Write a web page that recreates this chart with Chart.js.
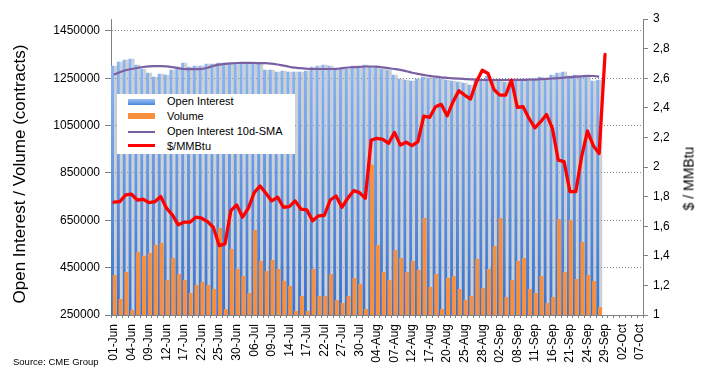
<!DOCTYPE html>
<html><head><meta charset="utf-8">
<script src="https://cdn.jsdelivr.net/npm/chart.js@4.4.1/dist/chart.umd.min.js"></script>
<style>
html,body{margin:0;padding:0;background:#fff;}
#wrap{position:relative;width:709px;height:377px;overflow:hidden;font-family:'Liberation Sans',Arial,sans-serif;color:#000;}
#c{position:absolute;left:0;top:0;}
#legend{position:absolute;left:117px;top:94px;width:178px;height:60px;background:#fff;}
.sw{position:absolute;left:11px;width:27px;}
.lt{position:absolute;left:50px;font-size:11px;line-height:14px;white-space:nowrap;}
#ltitle{position:absolute;left:-130px;top:164px;width:300px;height:20px;line-height:20px;text-align:center;font-size:17px;transform:rotate(-90deg);transform-origin:50% 50%;white-space:nowrap;}
#rtitle{position:absolute;left:639px;top:170px;width:100px;height:17px;line-height:17px;text-align:center;font-size:14px;transform:rotate(-90deg);transform-origin:50% 50%;white-space:nowrap;}
#source{position:absolute;left:13px;top:356px;font-size:9.5px;line-height:12px;white-space:nowrap;}
</style>
</head><body>
<div id="wrap">
<canvas id="c" width="709" height="377"></canvas>
<div id="legend">
  <div class="sw" style="top:5px;height:5.5px;background:linear-gradient(to bottom,#9cc2f6,#4a86d8);"></div>
  <div class="lt" style="top:0px;">Open Interest</div>
  <div class="sw" style="top:19.3px;height:5.7px;background:#f78f3e;"></div>
  <div class="lt" style="top:15px;">Volume</div>
  <div class="sw" style="top:36.7px;height:2px;background:#7a60a3;"></div>
  <div class="lt" style="top:30px;">Open Interest 10d-SMA</div>
  <div class="sw" style="top:50.2px;height:3px;background:#ff0000;"></div>
  <div class="lt" style="top:44.7px;">$/MMBtu</div>
</div>
<div id="ltitle">Open Interest / Volume (contracts)</div>
<div id="rtitle">$ / MMBtu</div>
<div id="source">Source: CME Group</div>
</div>
<script>
const categories = [
 '01-Jun','02-Jun','03-Jun','04-Jun','05-Jun','08-Jun','09-Jun','10-Jun','11-Jun','12-Jun',
 '15-Jun','16-Jun','17-Jun','18-Jun','19-Jun','22-Jun','23-Jun','24-Jun','25-Jun','26-Jun',
 '29-Jun','30-Jun','01-Jul','02-Jul','06-Jul','07-Jul','08-Jul','09-Jul','10-Jul','13-Jul',
 '14-Jul','15-Jul','16-Jul','17-Jul','20-Jul','21-Jul','22-Jul','23-Jul','24-Jul','27-Jul',
 '28-Jul','29-Jul','30-Jul','31-Jul','03-Aug','04-Aug','05-Aug','06-Aug','07-Aug','10-Aug',
 '11-Aug','12-Aug','13-Aug','14-Aug','17-Aug','18-Aug','19-Aug','20-Aug','21-Aug','24-Aug',
 '25-Aug','26-Aug','27-Aug','28-Aug','31-Aug','01-Sep','02-Sep','03-Sep','04-Sep','08-Sep',
 '09-Sep','10-Sep','11-Sep','14-Sep','15-Sep','16-Sep','17-Sep','18-Sep','21-Sep','22-Sep',
 '23-Sep','24-Sep','25-Sep','28-Sep','29-Sep','30-Sep','01-Oct','02-Oct','05-Oct','06-Oct',
 '07-Oct'];

const xTickLabels = ['01-Jun','04-Jun','09-Jun','12-Jun','17-Jun','22-Jun','25-Jun','30-Jun',
 '06-Jul','09-Jul','14-Jul','17-Jul','22-Jul','27-Jul','30-Jul','04-Aug','07-Aug','12-Aug',
 '17-Aug','20-Aug','25-Aug','28-Aug','02-Sep','08-Sep','11-Sep','16-Sep','21-Sep','24-Sep',
 '29-Sep','02-Oct','07-Oct'];

const openInterest = [
 1302800,1319700,1328100,1332400,1307000,1290100,1273200,1256300,1268900,1264700,
 1285900,1298500,1315500,1298500,1302800,1302800,1311200,1311200,1315500,1315500,
 1315500,1311200,1311200,1311200,1319700,1311200,1285900,1285900,1277400,1281600,
 1277400,1277400,1277400,1281600,1298500,1302800,1307000,1302800,1290100,1290100,
 1290100,1302800,1298500,1307000,1298500,1298500,1290100,1285900,1264700,1247800,
 1243600,1239400,1247800,1256300,1252000,1252000,1247800,1243600,1239400,1235100,
 1230900,1222400,1243600,1247800,1260500,1243600,1239400,1235100,1239400,1243600,
 1243600,1239400,1247800,1256300,1247800,1264700,1273200,1277400,1260500,1264700,
 1260500,1256300,1239400,1243600];

const volume = [
 419100,317600,431800,271100,516400,499500,512100,546000,554400,398000,
 491000,423300,398000,343000,376800,389500,376800,359900,617800,275300,
 529100,444500,414900,343000,609400,478300,436000,482500,444500,393800,
 372600,266900,330300,266900,444500,330300,330300,423300,313400,300700,
 330300,406400,381100,275300,884200,546000,431800,398000,524800,491000,
 431800,478300,440300,660100,368400,423300,275300,406400,414900,359900,
 313400,330300,486800,364200,444500,541700,660100,326100,398000,478300,
 491000,359900,343000,414900,300700,326100,655900,431800,651700,402200,
 558600,419100,393800,283800];

const oiSma10 = [
 1264700,1275300,1283700,1288800,1293100,1297300,1299800,1300700,1300700,1299800,
 1296500,1292200,1288800,1288000,1288000,1288800,1294300,1301500,1307000,1310400,
 1312900,1314200,1314600,1314600,1314200,1313400,1313400,1311200,1307800,1302800,
 1298500,1294300,1292200,1290100,1288800,1288800,1288800,1288800,1289200,1292200,
 1295200,1296500,1297700,1299400,1299400,1298500,1295600,1292200,1288800,1285000,
 1279500,1273200,1268100,1263900,1259600,1256300,1253700,1251600,1249500,1247800,
 1246500,1245300,1243600,1242300,1242300,1242300,1242300,1242300,1242300,1242700,
 1243200,1243600,1244400,1245700,1247000,1248700,1250400,1252500,1254600,1256300,
 1258000,1259600,1259200,1256300];

const priceUsdMMBtu = [
 1.762,1.766,1.811,1.816,1.777,1.782,1.759,1.766,1.800,1.722,
 1.676,1.609,1.627,1.627,1.661,1.654,1.631,1.593,1.469,1.481,
 1.705,1.744,1.661,1.722,1.827,1.872,1.823,1.771,1.796,1.728,
 1.732,1.771,1.715,1.710,1.636,1.670,1.674,1.777,1.804,1.728,
 1.789,1.840,1.827,1.789,2.182,2.194,2.187,2.160,2.234,2.148,
 2.167,2.144,2.171,2.344,2.335,2.407,2.423,2.346,2.440,2.515,
 2.486,2.459,2.575,2.654,2.632,2.524,2.486,2.486,2.587,2.403,
 2.407,2.328,2.265,2.306,2.355,2.261,2.047,2.036,1.833,1.833,
 2.070,2.243,2.144,2.092,2.760];

const leftTicks = [250000,450000,650000,850000,1050000,1250000,1450000];
const rightTicks = [1,1.2,1.4,1.6,1.8,2,2.2,2.4,2.6,2.8,3];
const rightTickLabels = ['1','1,2','1,4','1,6','1,8','2','2,2','2,4','2,6','2,8','3'];

Chart.defaults.font.family = "'Liberation Sans', Arial, sans-serif";
Chart.defaults.color = '#000';

function oiGradient(context) {
  const chart = context.chart;
  const a = chart.chartArea;
  if (!a) return 'rgb(100,150,230)';
  const g = chart.ctx.createLinearGradient(0, a.top, 0, a.bottom);
  g.addColorStop(0, 'rgb(152,193,248)');
  g.addColorStop(1, 'rgb(55,114,208)');
  return g;
}

const barShadow = {
  id: 'barShadow',
  beforeDatasetDraw(chart, args) {
    if (args.index !== 0) return;
    const ctx = chart.ctx;
    ctx.save();
    ctx.shadowColor = 'rgba(150,150,150,0.45)';
    ctx.shadowOffsetX = 3;
    ctx.shadowOffsetY = 0;
    ctx.shadowBlur = 0;
  },
  afterDatasetDraw(chart, args) {
    if (args.index !== 0) return;
    chart.ctx.restore();
  }
};

new Chart(document.getElementById('c'), {
  type: 'bar',
  data: {
    labels: categories,
    datasets: [
      { label: 'Open Interest', data: openInterest, yAxisID: 'y', order: 3, stack: 'a',
        backgroundColor: oiGradient, borderWidth: 0, categoryPercentage: 0.958, barPercentage: 1.071 },
      { label: 'Volume', data: volume, yAxisID: 'y', order: 2, stack: 'b',
        backgroundColor: 'rgb(247,143,62)', borderWidth: 0, categoryPercentage: 0.547, barPercentage: 2.5 },
      { label: 'group helper', data: [], yAxisID: 'y', order: 1, stack: 'a' },
      { type: 'line', label: 'Open Interest 10d-SMA', data: oiSma10, yAxisID: 'y', order: -1,
        borderColor: 'rgb(122,96,163)', borderWidth: 2.2, pointRadius: 0, tension: 0.4,
        cubicInterpolationMode: 'monotone', fill: false },
      { type: 'line', label: '$/MMBtu', data: priceUsdMMBtu, yAxisID: 'y2', order: -2,
        borderColor: '#ff0000', borderWidth: 3.3, pointRadius: 0, tension: 0,
        borderJoinStyle: 'round', borderCapStyle: 'round', fill: false }
    ]
  },
  options: {
    responsive: false,
    animation: false,
    events: [],
    layout: { padding: { top: 19, left: 0, right: 0, bottom: 0 } },
    plugins: { legend: { display: false }, tooltip: { enabled: false } },
    scales: {
      x: {
        type: 'category', offset: true,
        grid: { offset: true, drawOnChartArea: false, drawTicks: true, tickLength: 3, color: '#808080', tickColor: '#808080' },
        border: { display: true, color: '#808080' },
        ticks: { autoSkip: false, maxRotation: 90, minRotation: 90, padding: 6, color: '#000', font: { size: 12 },
          callback: (v, i) => xTickLabels.includes(categories[i]) ? categories[i] : '' },
        afterFit: s => { s.height = 62; }
      },
      y: {
        position: 'left', min: 250000, max: 1500000, stacked: false, z: 1,
        afterBuildTicks: s => { s.ticks = leftTicks.map(v => ({ value: v })); },
        ticks: { color: '#000', font: { size: 12 }, padding: 5, callback: v => String(v) },
        grid: { color: c => (c.tick && c.tick.value === 250000) ? 'rgba(0,0,0,0)' : '#8a8a8a',
          tickColor: '#808080', tickLength: 6, drawTicks: true },
        border: { display: true, color: '#808080', dash: [1, 2] },
        title: { display: false },
        afterFit: s => { s.width = 111; }
      },
      y2: {
        position: 'right', min: 1, max: 3,
        afterBuildTicks: s => { s.ticks = rightTicks.map(v => ({ value: v })); },
        ticks: { color: '#000', font: { size: 12 }, padding: 5,
          callback: v => { const k = rightTicks.indexOf(v); return k >= 0 ? rightTickLabels[k] : ''; } },
        grid: { drawOnChartArea: false, drawTicks: true, tickLength: 5, tickColor: '#808080' },
        border: { display: true, color: '#808080' },
        afterFit: s => { s.width = 66; }
      }
    }
  },
  plugins: [barShadow]
});
</script>
</body></html>
